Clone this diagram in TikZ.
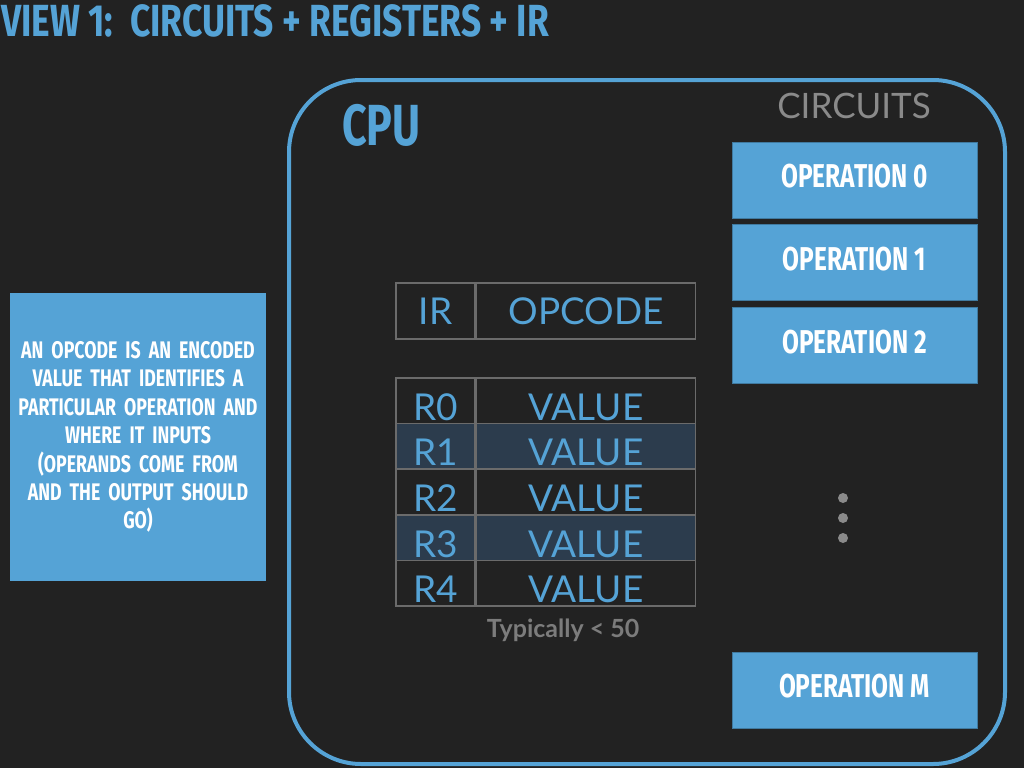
\documentclass[tikz,border=0pt]{standalone}
\usepackage{fontspec}
\setmainfont{Lato}
\newfontfamily\dinfont[FakeStretch=0.74]{Fira Sans}
\newfontfamily\dintitle[FakeStretch=0.785]{Fira Sans}
\usetikzlibrary{positioning}
\definecolor{slidebg}{RGB}{34,34,34}
\definecolor{cpublue}{RGB}{85,163,214}
\definecolor{cellline}{RGB}{107,107,107}
\definecolor{regstripe}{RGB}{44,60,77}
\definecolor{labelgray}{RGB}{138,138,138}
\definecolor{notegray}{RGB}{124,124,124}
\tikzset{
  opbox/.style={rectangle, fill=cpublue, draw=cpublue!75!black, line width=0.8pt,
    minimum width=245pt, minimum height=76pt, inner sep=0pt, text=white, text depth=8pt,
    font=\dinfont\bfseries\fontsize{33}{33}\selectfont},
  cell/.style={rectangle, draw=cellline, line width=1.6pt, inner sep=0pt,
    text=cpublue, font=\fontsize{37}{37}\selectfont},
  regcell/.style={cell, minimum height=45.6pt, text height=39pt, text depth=0pt},
  dot/.style={circle, fill=labelgray, inner sep=0pt, minimum size=10pt}
}
\begin{document}
\begin{tikzpicture}[x=1pt, y=-1pt]
  % Fond
  \fill[slidebg] (0,0) rectangle (1024,768);
  \useasboundingbox (0,0) rectangle (1024,768);
  % Titre
  \node[anchor=north west, inner sep=0pt, text=cpublue,
        font=\dintitle\bfseries\fontsize{45}{45}\selectfont] (title) at (1,4)
      {VIEW 1:\ \ CIRCUITS + REGISTERS + IR};
  % Note explicative
  \node[rectangle, fill=cpublue, minimum width=256pt, minimum height=288pt,
        text width=250pt, align=center, text=white, inner sep=0pt,
        font=\dinfont\bfseries\fontsize{24}{28.4}\selectfont] (note) at (138,437)
      {AN OPCODE IS AN ENCODED\\ VALUE THAT IDENTIFIES A\\ PARTICULAR OPERATION AND\\
       WHERE IT INPUTS\\ (OPERANDS COME FROM\\ AND THE OUTPUT SHOULD\\ GO)};
  % Processeur
  \node[rectangle, draw=cpublue, line width=4pt, rounded corners=72pt,
        minimum width=716pt, minimum height=684pt] (cpu) at (647,422) {};
  \node[anchor=north west, inner sep=0pt, text=cpublue,
        font=\dinfont\bfseries\fontsize{58}{58}\selectfont] (cpulabel) at (342,104) {CPU};
  % Circuits
  \node[inner sep=0pt, text=labelgray, font=\fontsize{35}{35}\selectfont]
      (circuits) at (854,106) {CIRCUITS};
  \node[opbox] (op0) at (854.5,180) {OPERATION 0};
  \node[opbox, below=6pt of op0] (op1) {OPERATION 1};
  \node[opbox, below=6pt of op1] (op2) {OPERATION 2};
  \node[opbox] (opm) at (854.5,690) {OPERATION M};
  \foreach \k in {0,1,2}
    \node[dot] (dot\k) at (843,498+20*\k) {};
  % Registre d'instruction
  \node[cell, minimum width=79pt, minimum height=56pt] (ir) at (435.5,311) {IR};
  \node[cell, minimum width=219pt, minimum height=56pt, right=0pt of ir] (opcode) {OPCODE};
  % Registres
  \foreach \i/\shade in {0/slidebg,1/regstripe,2/slidebg,3/regstripe,4/slidebg} {
    \node[regcell, fill=\shade, minimum width=79pt] (r\i) at (435.5,400.8+45.6*\i) {R\i};
    \node[regcell, fill=\shade, minimum width=219pt, right=0pt of r\i] (v\i) {VALUE};
  }
  \node[text=notegray, font=\bfseries\fontsize{25}{25}\selectfont, below=9pt of v4.south,
        xshift=-23pt] (limit) {Typically < 50};
\end{tikzpicture}
\end{document}
